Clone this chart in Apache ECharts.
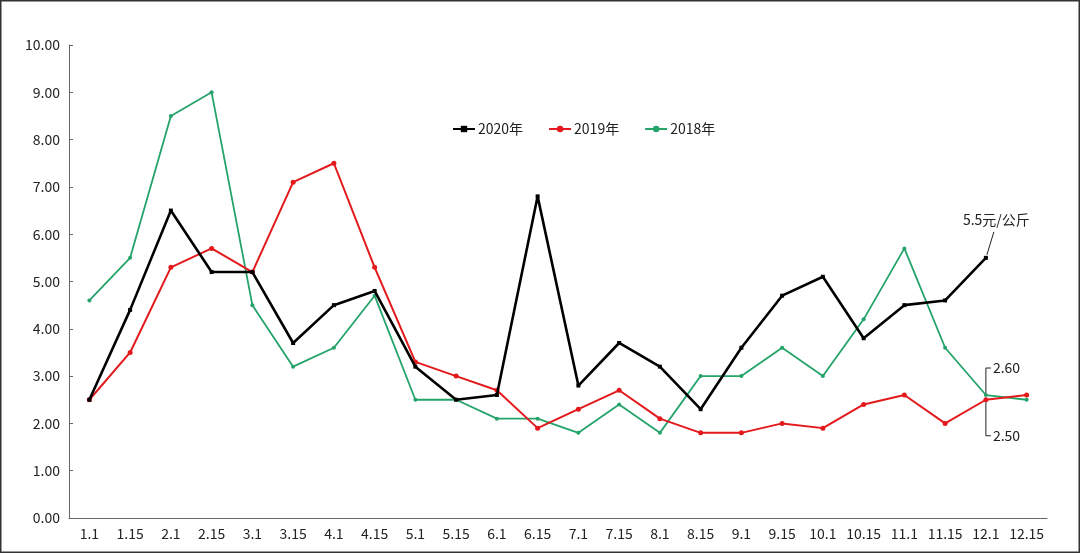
<!DOCTYPE html>
<html><head><meta charset="utf-8">
<script src="https://cdn.jsdelivr.net/npm/echarts@6/dist/echarts.min.js"></script>
<style>html,body{margin:0;padding:0;background:#fff}#c{width:1080px;height:553px}</style>
</head><body><div id="c"></div>
<script>
const categories = ['1.1','1.15','2.1','2.15','3.1','3.15','4.1','4.15','5.1','5.15','6.1','6.15','7.1','7.15','8.1','8.15','9.1','9.15','10.1','10.15','11.1','11.15','12.1','12.15'];
const y2020 = [2.5,4.4,6.5,5.2,5.2,3.7,4.5,4.8,3.2,2.5,2.6,6.8,2.8,3.7,3.2,2.3,3.6,4.7,5.1,3.8,4.5,4.6,5.5,null];
const y2019 = [2.5,3.5,5.3,5.7,5.2,7.1,7.5,5.3,3.3,3.0,2.7,1.9,2.3,2.7,2.1,1.8,1.8,2.0,1.9,2.4,2.6,2.0,2.5,2.6];
const y2018 = [4.6,5.5,8.5,9.0,4.5,3.2,3.6,4.7,2.5,2.5,2.1,2.1,1.8,2.4,1.8,3.0,3.0,3.6,3.0,4.2,5.7,3.6,2.6,2.5];
const seriesNames = ['2020年','2019年','2018年'];
const yTicks = {min:0, max:10, interval:1};
const noteTop = '5.5元/公斤';
const noteA = '2.60';
const noteB = '2.50';

const FONT = '"Noto Sans CJK SC","Noto Sans",sans-serif';
const chart = echarts.init(document.getElementById('c'));
const colors = ['#000000','#e3191c','#24a36a'];
chart.setOption({
  animation:false,
  backgroundColor:'#fff',
  textStyle:{fontFamily:FONT},
  grid:{left:69,right:33,top:45,bottom:35,containLabel:false},
  legend:{
    data:seriesNames, left:447, top:117, itemGap:25, itemWidth:22, itemHeight:8,
    textStyle:{fontSize:14,color:'#222',fontFamily:FONT,padding:[0,0,0,-2]}
  },
  xAxis:{
    type:'category', data:categories, boundaryGap:true,
    axisLine:{lineStyle:{color:'#666',width:1}},
    axisTick:{inside:true,length:4,interval:0,lineStyle:{color:'#666'}},
    axisLabel:{fontSize:14,color:'#222',margin:9,interval:0,fontFamily:FONT}
  },
  yAxis:{
    type:'value', min:yTicks.min, max:yTicks.max, interval:yTicks.interval,
    splitLine:{show:false},
    axisLine:{show:true,lineStyle:{color:'#666',width:1}},
    axisTick:{show:true,inside:true,length:4,lineStyle:{color:'#666'}},
    axisLabel:{fontSize:14,color:'#222',margin:9,fontFamily:FONT,formatter:v=>v.toFixed(2)}
  },
  series:[
    {name:seriesNames[0],type:'line',data:y2020,color:colors[0],symbol:'rect',symbolSize:4,showSymbol:true,
     lineStyle:{width:2.6,color:colors[0]},itemStyle:{color:colors[0]},z:3},
    {name:seriesNames[1],type:'line',data:y2019,color:colors[1],symbol:'circle',symbolSize:5,
     lineStyle:{width:2,color:colors[1]},itemStyle:{color:colors[1]},z:2},
    {name:seriesNames[2],type:'line',data:y2018,color:colors[2],symbol:'circle',symbolSize:4,
     lineStyle:{width:1.8,color:colors[2]},itemStyle:{color:colors[2]},z:1}
  ]
});

const p20 = chart.convertToPixel({seriesIndex:0}, [22, y2020[22]]);
const p18 = chart.convertToPixel({seriesIndex:2}, [22, y2018[22]]);
const p19 = chart.convertToPixel({seriesIndex:1}, [22, y2019[22]]);
const ls = {stroke:'#222',lineWidth:1};
const ts = (t,x,y,align)=>({type:'text',x:x,y:y,style:{text:t,fill:'#222',font:'14px '+FONT,textAlign:align||'left',textVerticalAlign:'middle'}});
chart.setOption({graphic:[
  {type:'rect',shape:{x:0.75,y:0.75,width:1078.5,height:551.5},style:{fill:'none',stroke:'#333',lineWidth:1.5},silent:true},
  {type:'line',shape:{x1:p20[0]+1,y1:p20[1]-3,x2:p20[0]+8,y2:p20[1]-26},style:ls},
  ts(noteTop,p20[0]-23,p20[1]-38),
  {type:'polyline',shape:{points:[[p18[0]+5,p18[1]-27],[p18[0],p18[1]-27],[p18[0],p18[1]]]},style:Object.assign({fill:'none'},ls)},
  ts(noteA,p18[0]+7,p18[1]-27),
  {type:'polyline',shape:{points:[[p19[0],p19[1]],[p19[0],p19[1]+36],[p19[0]+5,p19[1]+36]]},style:Object.assign({fill:'none'},ls)},
  ts(noteB,p19[0]+7,p19[1]+36)
]});
</script></body></html>
